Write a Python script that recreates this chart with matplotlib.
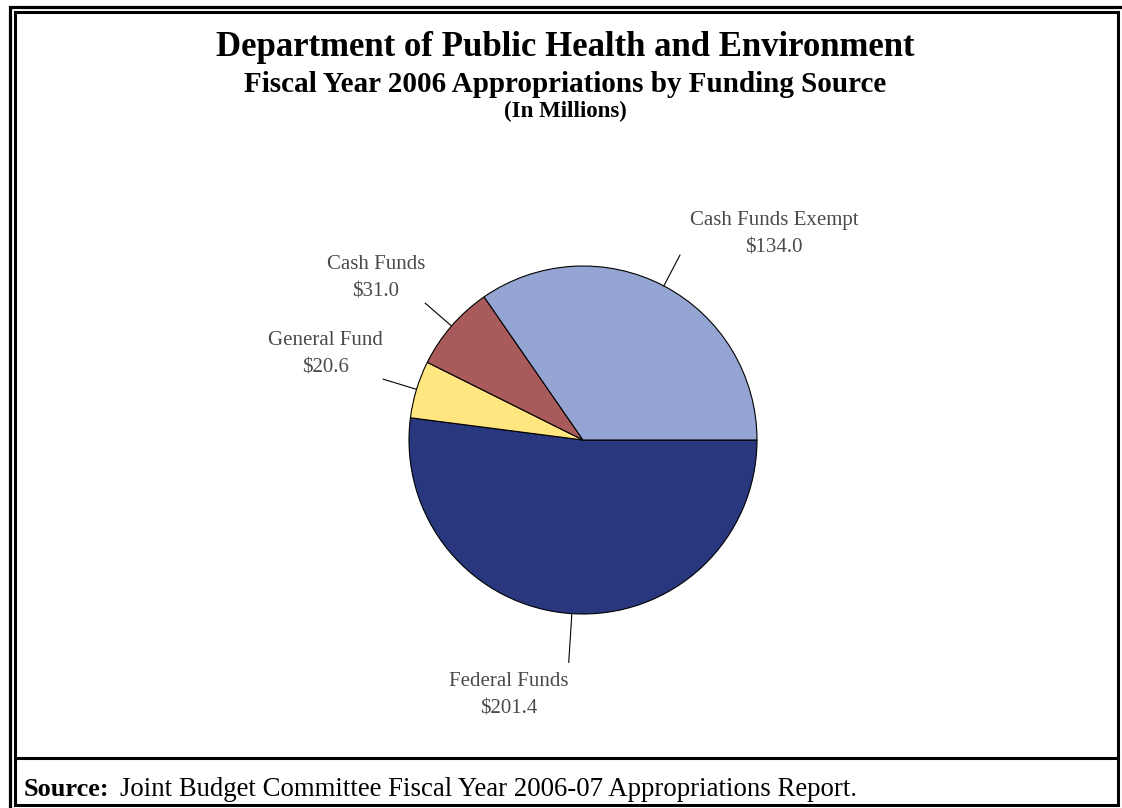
import numpy as np
import matplotlib.pyplot as plt
from matplotlib.patches import Rectangle
from matplotlib.lines import Line2D

sources = ["Federal Funds", "General Fund", "Cash Funds", "Cash Funds Exempt"]
amounts = [201.4, 20.6, 31.0, 134.0]
colors = ["#29377F", "#FFE680", "#A95A5A", "#95A5D3"]

W, H = 1122, 808
plt.rcParams['font.family'] = ['Liberation Serif', 'DejaVu Serif']

fig = plt.figure(figsize=(W / 100, H / 100), dpi=100)


def fx(x):
    return x / W


def fy(y):
    return 1 - y / H


# double border, with the outer one running off the right/bottom edges
fig.patches.append(Rectangle((fx(9.5), fy(812)), fx(1125 - 9.5), (812 - 6.5) / H,
                             transform=fig.transFigure, fill=False,
                             edgecolor="black", linewidth=2.3))
fig.patches.append(Rectangle((fx(14.5), fy(804.5)), fx(1117.5 - 14.5), (804.5 - 12) / H,
                             transform=fig.transFigure, fill=False,
                             edgecolor="black", linewidth=2.2))
fig.lines.append(Line2D([fx(14.5), fx(1117.5)], [fy(758), fy(758)],
                        transform=fig.transFigure, color="black", linewidth=2.2))

# titles
cx = fx(565)
fig.text(cx, fy(48), "Department of Public Health and Environment", ha="center",
         va="center", fontsize=25, fontweight="bold")
fig.text(cx, fy(85), "Fiscal Year 2006 Appropriations by Funding Source", ha="center",
         va="center", fontsize=21, fontweight="bold")
fig.text(cx, fy(111), "(In Millions)", ha="center", va="center",
         fontsize=16.5, fontweight="bold")

# pie
r_px = 174
pc_x, pc_y = 583, 440
ax = fig.add_axes([fx(pc_x - r_px), fy(pc_y + r_px), 2 * r_px / W, 2 * r_px / H])
wedges, _ = ax.pie(amounts, colors=colors, startangle=0, counterclock=False,
                   radius=1.0, wedgeprops=dict(edgecolor="black", linewidth=0.8))
ax.set_xlim(-1, 1)
ax.set_ylim(-1, 1)
ax.axis("off")

leader_len = {"Federal Funds": 1.28}
for w, name, val in zip(wedges, sources, amounts):
    ang = np.deg2rad((w.theta1 + w.theta2) / 2)
    c, s = np.cos(ang), np.sin(ang)
    L = leader_len.get(name, 1.2)
    ax.plot([c, L * c], [s, L * s], color="black", linewidth=0.8, clip_on=False)
    ha = "left" if c > 0 else "right"
    va = "bottom" if s > 0 else "top"
    dx = 7 if c > 0 else 0
    if s < 0:
        dy = -7
    elif c > 0:
        dy = -2
    else:
        dy = 1.5
    ax.annotate(f"{name}\n${val:.1f}", xy=(L * c, L * s), xytext=(dx, dy),
                textcoords="offset points", ha=ha, va=va, multialignment="center",
                fontsize=15, color="#4a4a4a", linespacing=1.6,
                annotation_clip=False, parse_math=False)

# source note
fig.canvas.draw()
t1 = fig.text(fx(24), fy(790), "Source:", ha="left", va="center",
              fontsize=19, fontweight="bold")
bb = t1.get_window_extent(fig.canvas.get_renderer())
fig.text(fx(bb.x1 + 10), fy(790), "Joint Budget Committee Fiscal Year 2006-07 Appropriations Report.",
         ha="left", va="center", fontsize=19.3)

fig.savefig("out.png", dpi=100)
